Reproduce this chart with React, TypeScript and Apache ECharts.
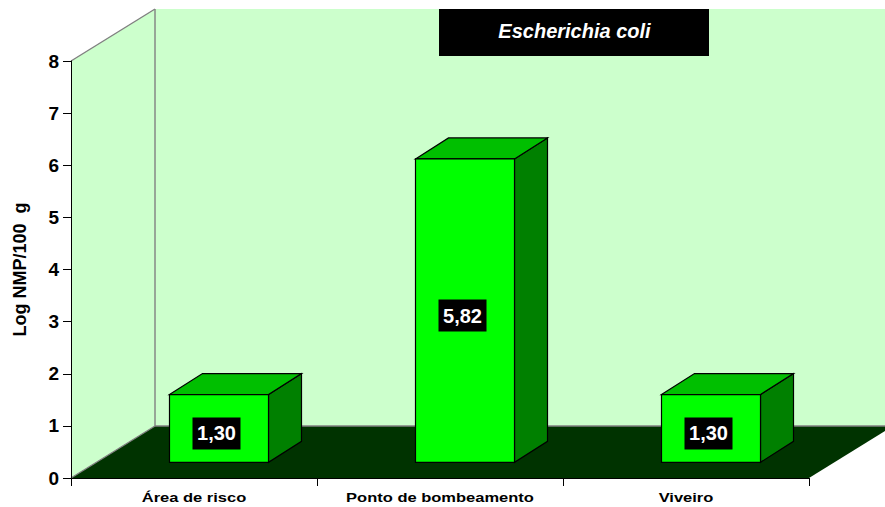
import React, { useEffect, useRef } from "react";
import * as echarts from "echarts";

// Sampling sites and their counts, on a log scale
const categories = ["Área de risco", "Ponto de bombeamento", "Viveiro"];
const logCounts = [1.3, 5.82, 1.3];
const valueLabels = ["1,30", "5,82", "1,30"];
const yTicks = [0, 8, 1];
const chartTitle = "Escherichia coli";
const yAxisTitle = "Log NMP/100  g";

const FONT = '"Liberation Sans", Arial, sans-serif';

// Plot frame in pixels and the oblique offset of the 3D room
const LEFT = 71;
const RIGHT = 809;
const TOP = 61;
const BOTTOM = 478;
const ROOM_DX = 84;
const ROOM_DY = 52;
const PAGE_W = 885;
const PAGE_H = 507;

// Oblique box proportions
const BAR_W = 99;
const BAR_DX = 33;
const BAR_DY = 21;
const FLOOR_SHIFT_X = 25;
const FLOOR_SHIFT_Y = 15.7;

function renderBar(params: any, api: any) {
  const idx = api.value(0);
  const val = api.value(1);
  const top = api.coord([idx, val]);
  const base = api.coord([idx, 0]);
  const x0 = top[0] + FLOOR_SHIFT_X - BAR_W / 2;
  const x1 = x0 + BAR_W;
  const yT = top[1] - FLOOR_SHIFT_Y;
  const yB = base[1] - FLOOR_SHIFT_Y;
  const edge = { stroke: "#000000", lineWidth: 1.2 };
  const labelCx = (x0 + x1) / 2 - 2.5;
  const labelCy = (yT + yB) / 2 + 5;
  return {
    type: "group",
    children: [
      {
        type: "polygon",
        shape: { points: [[x1, yT], [x1 + BAR_DX, yT - BAR_DY], [x1 + BAR_DX, yB - BAR_DY], [x1, yB]] },
        style: { fill: "#008000", ...edge },
      },
      {
        type: "polygon",
        shape: { points: [[x0, yT], [x0 + BAR_DX, yT - BAR_DY], [x1 + BAR_DX, yT - BAR_DY], [x1, yT]] },
        style: { fill: "#00BF00", ...edge },
      },
      {
        type: "rect",
        shape: { x: x0, y: yT, width: BAR_W, height: yB - yT },
        style: { fill: "#00FF00", ...edge },
      },
      {
        type: "rect",
        shape: { x: labelCx - 24, y: labelCy - 16, width: 48, height: 32 },
        style: { fill: "#000000" },
      },
      {
        type: "text",
        style: {
          text: valueLabels[params.dataIndex],
          x: labelCx,
          y: labelCy,
          align: "center",
          verticalAlign: "middle",
          fill: "#FFFFFF",
          fontFamily: FONT,
          fontWeight: "bold",
          fontSize: 20,
        },
      },
    ],
  };
}

// Category names sit under the axis in a wide, horizontally stretched face
function renderCategoryName(params: any, api: any) {
  const pos = api.coord([api.value(0), 0]);
  return {
    type: "text",
    x: pos[0],
    y: pos[1] + 19.5,
    scaleX: 1.27,
    style: {
      text: categories[params.dataIndex],
      x: 0,
      y: 0,
      align: "center",
      verticalAlign: "middle",
      fill: "#000000",
      fontFamily: FONT,
      fontWeight: "bold",
      fontSize: 13,
    },
  };
}

export default function App() {
  const ref = useRef<HTMLDivElement>(null);

  useEffect(() => {
    const chart = echarts.init(ref.current!, null, { renderer: "svg" });
    const wallTop = TOP - ROOM_DY;
    const floorY = BOTTOM - ROOM_DY;
    const floorEndY = BOTTOM - ((PAGE_W - RIGHT) * ROOM_DY) / ROOM_DX;
    const roomLine = { stroke: "#808080", lineWidth: 1.4 };
    chart.setOption({
      animation: false,
      backgroundColor: "#FFFFFF",
      grid: { left: LEFT, top: TOP, width: RIGHT - LEFT, height: BOTTOM - TOP },
      graphic: {
        z: -1,
        elements: [
          {
            type: "polygon",
            shape: {
              points: [
                [LEFT, TOP],
                [LEFT + ROOM_DX, wallTop],
                [PAGE_W, wallTop],
                [PAGE_W, floorY],
                [LEFT + ROOM_DX, floorY],
                [LEFT, BOTTOM],
              ],
            },
            style: { fill: "#CCFFCC" },
          },
          {
            type: "polygon",
            shape: {
              points: [
                [LEFT, BOTTOM],
                [LEFT + ROOM_DX, floorY],
                [PAGE_W, floorY],
                [PAGE_W, floorEndY],
                [RIGHT, BOTTOM],
              ],
            },
            style: { fill: "#003300" },
          },
          { type: "line", shape: { x1: LEFT, y1: TOP, x2: LEFT + ROOM_DX, y2: wallTop }, style: roomLine },
          { type: "line", shape: { x1: LEFT + ROOM_DX, y1: wallTop, x2: LEFT + ROOM_DX, y2: floorY }, style: roomLine },
          { type: "line", shape: { x1: LEFT, y1: BOTTOM, x2: LEFT + ROOM_DX, y2: floorY }, style: roomLine },
          { type: "line", shape: { x1: LEFT + ROOM_DX, y1: floorY, x2: PAGE_W, y2: floorY }, style: roomLine },
          { type: "rect", shape: { x: 439, y: 9, width: 270, height: 47 }, style: { fill: "#000000" } },
          {
            type: "text",
            style: {
              text: chartTitle,
              x: 574.5,
              y: 31,
              align: "center",
              verticalAlign: "middle",
              fill: "#FFFFFF",
              fontFamily: FONT,
              fontWeight: "bold",
              fontStyle: "italic",
              fontSize: 20,
            },
          },
        ],
      },
      xAxis: {
        type: "category",
        data: categories,
        z: 3,
        axisLine: { show: true, lineStyle: { color: "#000000", width: 1 } },
        axisTick: { show: true, alignWithLabel: false, length: 8, lineStyle: { color: "#000000" } },
        axisLabel: { show: false },
      },
      yAxis: {
        type: "value",
        min: yTicks[0],
        max: yTicks[1],
        interval: yTicks[2],
        z: 3,
        name: yAxisTitle,
        nameLocation: "middle",
        nameGap: 42,
        nameTextStyle: { color: "#000000", fontFamily: FONT, fontWeight: "bold", fontSize: 18 },
        splitLine: { show: false },
        axisLine: { show: true, lineStyle: { color: "#000000", width: 1 } },
        axisTick: { show: true, length: 8, lineStyle: { color: "#000000" } },
        axisLabel: {
          color: "#000000",
          fontFamily: FONT,
          fontWeight: "bold",
          fontSize: 19,
          margin: 12,
        },
      },
      series: [
        {
          type: "custom",
          z: 10,
          clip: false,
          renderItem: renderBar,
          encode: { x: 0, y: 1 },
          data: logCounts.map((v, i) => [i, v]),
        },
        {
          type: "custom",
          z: 10,
          clip: false,
          renderItem: renderCategoryName,
          encode: { x: 0 },
          data: categories.map((_, i) => [i]),
        },
      ],
    });
    return () => chart.dispose();
  }, []);

  return (
    <div
      ref={ref}
      style={{ position: "fixed", left: 0, top: 0, width: PAGE_W, height: PAGE_H }}
    />
  );
}
